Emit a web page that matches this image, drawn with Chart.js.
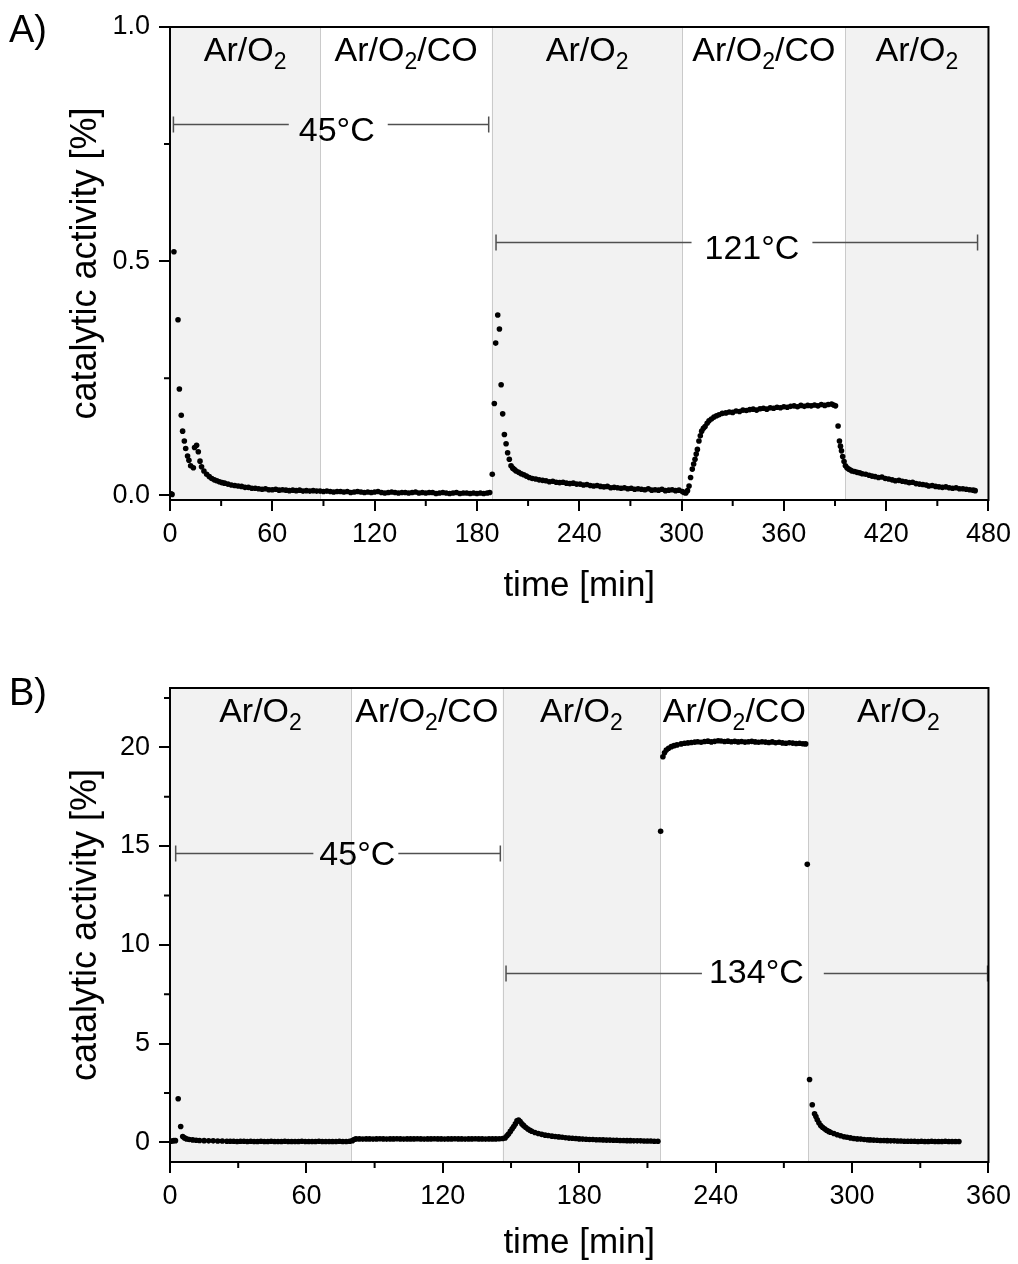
<!DOCTYPE html>
<html><head><meta charset="utf-8">
<script src="https://cdn.jsdelivr.net/npm/chart.js@4.4.0/dist/chart.umd.min.js"></script>
<style>
html,body{margin:0;padding:0;background:#fff;}
#wrap{position:relative;width:1018px;height:1264px;overflow:hidden;font-family:'Liberation Sans',Arial,sans-serif;}
canvas{position:absolute;left:0;}
#cA{top:0;} #cB{top:640px;}
.lbl{position:absolute;left:9px;font-size:38px;color:#000;line-height:1;}
</style></head>
<body><div id="wrap">
<canvas id="cA" width="1018" height="630"></canvas>
<canvas id="cB" width="1018" height="624"></canvas>
<div class="lbl" style="top:10px">A)</div>
<div class="lbl" style="top:673px">B)</div>
</div>
<script>
const FONT = "'Liberation Sans', Arial, sans-serif";

// ---------- Panel A data (time [min], catalytic activity [%]) ----------
const timeA1 = [0.5,1.2,2.3,4.7,5.5,6.6,7.4,8.4,9.2,10.3,11.1,12.1,13.7,14.4,15.6,16.6,17.6,18.5,19.9,21.5,23,24.5,26,27.5,29,30.5,32,34,36,38,40,42,44,46,48,50,52,54,56,58,60,62,64,66,68,70,72,74,76,78,80,82,84,86,88];
const actA1  = [0.003,0.002,0.52,0.375,0.227,0.171,0.137,0.116,0.100,0.084,0.075,0.063,0.059,0.102,0.107,0.093,0.073,0.061,0.052,0.045,0.040,0.036,0.033,0.031,0.029,0.027,0.026,0.024,0.022,0.021,0.020,0.019,0.017,0.017,0.015,0.015,0.014,0.013,0.014,0.012,0.012,0.013,0.011,0.012,0.011,0.010,0.011,0.010,0.011,0.009,0.010,0.009,0.010,0.009,0.009];
const timeA2 = [90,92,94,96,98,100,102,104,106,108,110,112,114,116,118,120,122,124,126,128,130,132,134,136,138,140,142,144,146,148,150,152,154,156,158,160,162,164,166,168,170,172,174,176,178,180,182,184,186,187.5];
const actA2  = [0.008,0.009,0.008,0.007,0.008,0.008,0.007,0.008,0.006,0.007,0.008,0.007,0.006,0.007,0.006,0.007,0.008,0.006,0.005,0.006,0.007,0.006,0.005,0.006,0.006,0.005,0.006,0.007,0.005,0.006,0.005,0.006,0.006,0.004,0.005,0.006,0.005,0.004,0.005,0.006,0.004,0.005,0.005,0.004,0.005,0.004,0.005,0.004,0.005,0.006];
const timeA3 = [189,190.2,191,192.2,193.2,194.2,195.1,196.1,197.1,198,199,200,201,202,203,204.5,206,207.5,209,210.7,212.5,214.5,216.5,218.5,220.5,222.5,224.5,226.5,228.5,230.5,232.5,234.5,236.5,238.5,240.5,242.5,244.5,246.5,248.5,250.5,252.5,254.5,256.5,258.5,260.5,262.5,264.5,266.5,268.5,270.5,272.5,274.5,276.5,278.5,280.5,282.5,284.5,286.5,288.5,290.5,292.5,294.5,296.5,298.5,300.5];
const actA3  = [0.045,0.196,0.325,0.385,0.355,0.236,0.174,0.130,0.110,0.091,0.077,0.063,0.058,0.055,0.052,0.049,0.046,0.044,0.041,0.038,0.036,0.035,0.033,0.032,0.031,0.029,0.030,0.028,0.027,0.028,0.026,0.025,0.026,0.024,0.024,0.022,0.023,0.021,0.020,0.021,0.019,0.018,0.019,0.016,0.017,0.016,0.015,0.016,0.014,0.015,0.013,0.014,0.013,0.012,0.014,0.011,0.012,0.011,0.013,0.010,0.011,0.012,0.010,0.011,0.008];
const timeA4 = [301.5,302.5,303.5,304.4,305.3,306.3,307.1,307.9,308.6,309.3,310.2,311,311.8,312.8,313.8,315,316.1,317.5,319,320.5,322,323.9,326,328,330,332,334,336,338,340,342,344,346,348,350,352,354,356,358,360,362,364,366,368,370,372,374,376,378,380,382,384,386,388,389.2,390.3];
const actA4  = [0.006,0.005,0.010,0.020,0.038,0.056,0.067,0.077,0.088,0.098,0.116,0.127,0.137,0.143,0.147,0.154,0.159,0.163,0.167,0.170,0.172,0.175,0.176,0.178,0.177,0.180,0.179,0.182,0.181,0.183,0.184,0.182,0.185,0.186,0.184,0.187,0.186,0.188,0.187,0.189,0.188,0.190,0.191,0.189,0.192,0.190,0.192,0.191,0.193,0.191,0.194,0.192,0.194,0.195,0.193,0.191];
const timeA5 = [391.8,392.6,393.2,393.8,394.5,395.3,396.1,397,398,399,400,401.5,403,404.5,406,408,410,411.7,413.5,415.5,417.5,419.5,421.5,423.5,425.4,427.5,429.5,431.5,433.5,435.5,437.5,439.5,441.5,443.5,445,447,449,451,453,455,457,459,461,463,465,467,469,471,472.2];
const actA5  = [0.148,0.116,0.105,0.095,0.083,0.072,0.063,0.059,0.056,0.054,0.052,0.051,0.049,0.048,0.046,0.045,0.043,0.041,0.040,0.038,0.039,0.036,0.035,0.033,0.031,0.032,0.030,0.029,0.027,0.028,0.025,0.024,0.023,0.022,0.020,0.021,0.019,0.018,0.017,0.018,0.016,0.015,0.016,0.014,0.014,0.013,0.012,0.011,0.010];

// ---------- Panel B data ----------
const timeB1 = [0.3,1.0,1.7,2.4,3.6,4.7,5.6,6.4,7.3,8.5,10,11.5,13,15,17,19,21,23,25,26.5,28,29.5,31,32.5,34,35.5,37,38.5,40,41.5,43,44.5,46,47.5,49,50.5,52,53.5,55,56.5,58,59.5,61,62.5,64,65.5,67,68.5,70,71.5,73,74.5,76,77.5,79];
const actB1  = [0.05,0.06,0.09,0.08,2.2,0.8,0.29,0.22,0.17,0.14,0.12,0.10,0.09,0.08,0.07,0.07,0.06,0.06,0.05,0.05,0.05,0.04,0.05,0.05,0.04,0.05,0.04,0.04,0.05,0.04,0.04,0.05,0.04,0.04,0.04,0.05,0.04,0.04,0.04,0.04,0.05,0.04,0.04,0.04,0.04,0.05,0.04,0.04,0.04,0.04,0.04,0.05,0.04,0.04,0.05];
const timeB2 = [80.2,81,81.8,83.3,84.8,86.3,87.8,89.3,90.8,92.3,93.8,95.3,96.8,98.3,99.8,101.3,102.8,104.3,105.8,107.3,108.8,110.3,111.8,113.3,114.8,116.3,117.8,119.3,120.8,122.3,123.8,125.3,126.8,128.3,129.8,131.3,132.8,134.3,135.8,137.3,138.8,140.3,141.8,143.3,144.8,146.3];
const actB2  = [0.08,0.14,0.17,0.17,0.16,0.17,0.17,0.16,0.17,0.18,0.17,0.16,0.17,0.17,0.18,0.17,0.16,0.17,0.17,0.17,0.18,0.17,0.16,0.17,0.17,0.18,0.17,0.17,0.16,0.17,0.17,0.18,0.17,0.17,0.16,0.17,0.17,0.18,0.17,0.17,0.16,0.17,0.17,0.17,0.18,0.19];
const timeB3 = [147.4,148.2,148.9,149.7,150.5,151.2,151.9,152.6,153.3,154.0,154.8,155.6,156.5,157.4,158.3,159.1,160.5,162,163.5,165,166.4,168,169.5,171,172.5,174,175.5,177,178.5,180,181.5,183,184.5,186,187.5,189,190.5,192,193.5,195,196.5,198,199.5,201,202.5,204,205.5,207,208.5,210,211.5,213,214.6];
const actB3  = [0.22,0.33,0.42,0.55,0.68,0.80,0.93,1.08,1.13,1.05,0.93,0.84,0.75,0.67,0.61,0.56,0.49,0.44,0.40,0.36,0.34,0.31,0.29,0.27,0.25,0.23,0.21,0.20,0.19,0.17,0.16,0.15,0.14,0.14,0.13,0.13,0.12,0.11,0.11,0.10,0.10,0.09,0.09,0.08,0.08,0.07,0.07,0.07,0.06,0.06,0.06,0.05,0.05];
const timeB4 = [215.8,216.8,217.5,218.3,219.3,220.5,221.7,223,224.8,226.3,227.8,229.3,230.8,232.1,233.6,235.1,236.6,238.1,239.6,241.1,242.4,243.9,245.4,246.9,248.4,249.9,251.4,252.9,254.4,255.9,257.4,258.9,260.4,261.9,263.4,264.9,266.4,267.9,269.4,270.9,272.4,273.9,275.4,276.9,278.4,279.6];
const actB4  = [15.75,19.52,19.72,19.86,19.95,20.03,20.08,20.12,20.17,20.2,20.22,20.24,20.26,20.28,20.25,20.29,20.31,20.27,20.3,20.33,20.32,20.29,20.31,20.28,20.3,20.27,20.29,20.26,20.28,20.3,20.27,20.25,20.28,20.26,20.24,20.27,20.23,20.25,20.22,20.2,20.23,20.21,20.19,20.2,20.18,20.17];
const timeB5 = [280.3,281.3,282.5,283.5,284.1,284.7,285.4,286.2,287,287.9,288.8,289.7,290.5,292,293.5,295,296.5,297.8,299.3,300.8,302.3,303.8,305.3,306.8,308,309.5,311,312.5,314,315.5,317,318.5,320,321.5,323,324.5,326,327.5,329,330.5,332,333.5,335,336.5,338,339.5,341,342.5,344,345.5,347];
const actB5  = [14.07,3.18,1.9,1.44,1.3,1.14,0.99,0.85,0.76,0.68,0.61,0.55,0.51,0.44,0.38,0.33,0.28,0.25,0.22,0.19,0.17,0.16,0.14,0.13,0.12,0.11,0.10,0.09,0.09,0.08,0.07,0.07,0.06,0.06,0.05,0.05,0.05,0.05,0.04,0.05,0.04,0.04,0.05,0.04,0.04,0.04,0.05,0.04,0.04,0.04,0.04];

// ---------- gas phases ----------
const gasBoundsA = [0, 88.2, 188.7, 300.5, 396, 480];
const gasBoundsB = [0, 79.6, 146.3, 215.6, 280.8, 360];
const gasLabels  = ['Ar/O2', 'Ar/O2/CO', 'Ar/O2', 'Ar/O2/CO', 'Ar/O2'];

// ---------- temperature annotations ----------
const tempA = [
  {text:'45°C',  from:2.0,   to:186.9, level:0.793, textAt:97.8,  gapL:10, gapR:13, dy:7},
  {text:'121°C', from:191.2, to:473.6, level:0.541, textAt:341.3, gapL:13, gapR:13, dy:7}
];
const tempB = [
  {text:'45°C',  from:2.5,   to:145.3, level:14.65, textAt:82.4,  gapL:6, gapR:3,  dy:2},
  {text:'134°C', from:147.8, to:359.6, level:8.59,  textAt:257.9, gapL:7, gapR:20, dy:0}
];

// ---------- tick values ----------
const xMajorStep = 60;
const xMinorA = [30,90,150,210,270,330,390,450];
const xMinorB = [30,90,150,210,270,330];
const yMinorA = [0.25,0.75];
const yMinorB = [2.5,7.5,12.5,17.5,22.5];

function drawGas(ctx, label, cx, baseline) {
  const idx = label.indexOf('2');
  const p1 = label.slice(0, idx), p3 = label.slice(idx + 1);
  const big = '34px ' + FONT, small = '23px ' + FONT;
  ctx.font = big;
  const w1 = ctx.measureText(p1).width, w3 = ctx.measureText(p3).width;
  ctx.font = small;
  const w2 = ctx.measureText('2').width;
  const x0 = cx - (w1 + w2 + w3) / 2;
  ctx.textAlign = 'left'; ctx.textBaseline = 'alphabetic'; ctx.fillStyle = '#000';
  ctx.font = big; ctx.fillText(p1, x0, baseline);
  ctx.font = small; ctx.fillText('2', x0 + w1, baseline + 8);
  ctx.font = big; ctx.fillText(p3, x0 + w1 + w2, baseline);
}

function makePanelPlugin(cfg) {
  return {
    id: 'panel',
    beforeDraw(chart) {
      const {ctx, chartArea: ca, scales: {x}} = chart;
      const b = cfg.bounds;
      ctx.save();
      for (let i = 0; i < b.length - 1; i++) {
        if (gasLabels[i] === 'Ar/O2') {
          const x0 = x.getPixelForValue(b[i]), x1 = x.getPixelForValue(b[i + 1]);
          ctx.fillStyle = '#f2f2f2';
          ctx.fillRect(x0, ca.top, x1 - x0, ca.bottom - ca.top);
        }
      }
      ctx.strokeStyle = '#cacaca'; ctx.lineWidth = 1;
      for (let i = 1; i < b.length - 1; i++) {
        const px = Math.round(x.getPixelForValue(b[i])) + 0.5;
        ctx.beginPath(); ctx.moveTo(px, ca.top); ctx.lineTo(px, ca.bottom); ctx.stroke();
      }
      ctx.restore();
    },
    beforeDatasetsDraw(chart) {
      const {ctx, chartArea: ca, scales: {x, y}} = chart;
      const b = cfg.bounds;
      ctx.save();
      for (let i = 0; i < b.length - 1; i++) {
        const cx = (x.getPixelForValue(b[i]) + x.getPixelForValue(b[i + 1])) / 2;
        drawGas(ctx, gasLabels[i], cx, ca.top + 34);
      }
      for (const a of cfg.temps) {
        const x1 = x.getPixelForValue(a.from), x2 = x.getPixelForValue(a.to);
        const yp = Math.round(y.getPixelForValue(a.level)) + 0.5;
        const tx = x.getPixelForValue(a.textAt);
        ctx.font = '34px ' + FONT;
        const w = ctx.measureText(a.text).width;
        const gl = tx - w / 2 - a.gapL, gr = tx + w / 2 + a.gapR;
        ctx.strokeStyle = '#505050'; ctx.lineWidth = 1.5;
        ctx.beginPath();
        ctx.moveTo(x1, yp); ctx.lineTo(gl, yp);
        ctx.moveTo(gr, yp); ctx.lineTo(x2, yp);
        ctx.moveTo(x1, yp - 8); ctx.lineTo(x1, yp + 8);
        ctx.moveTo(x2, yp - 8); ctx.lineTo(x2, yp + 8);
        ctx.stroke();
        ctx.fillStyle = '#000'; ctx.textAlign = 'center'; ctx.textBaseline = 'middle';
        ctx.fillText(a.text, tx, yp + a.dy);
      }
      ctx.restore();
    },
    afterDraw(chart) {
      const {ctx, chartArea: ca, scales: {x, y}} = chart;
      ctx.save();
      ctx.strokeStyle = '#000'; ctx.lineWidth = 2;
      ctx.beginPath();
      ctx.moveTo(ca.left - 1, ca.top); ctx.lineTo(ca.right, ca.top); ctx.lineTo(ca.right, ca.bottom + 1);
      ctx.stroke();
      ctx.beginPath();
      for (const v of cfg.xMinor) {
        const px = x.getPixelForValue(v);
        ctx.moveTo(px, ca.bottom); ctx.lineTo(px, ca.bottom + 6);
      }
      for (const v of cfg.yMinor) {
        const py = y.getPixelForValue(v);
        ctx.moveTo(ca.left, py); ctx.lineTo(ca.left - 6, py);
      }
      ctx.stroke();
      ctx.restore();
    }
  };
}

function makeChart(id, cfg) {
  const pts = cfg.t.map((t, i) => ({x: t, y: cfg.v[i]}));
  return new Chart(document.getElementById(id), {
    type: 'scatter',
    data: {datasets: [{data: pts, pointRadius: 2.8, pointHoverRadius: 2.8, pointBackgroundColor: '#000', pointBorderColor: '#000', pointBorderWidth: 0, showLine: false}]},
    options: {
      responsive: false, animation: false, devicePixelRatio: 1,
      layout: {padding: {left: 0, top: cfg.padTop, right: 28, bottom: 0}},
      plugins: {legend: {display: false}, tooltip: {enabled: false}},
      scales: {
        x: {
          type: 'linear', min: 0, max: cfg.xMax,
          afterFit: s => { s.height = cfg.xAxisH; },
          ticks: {stepSize: xMajorStep, font: {size: 27, family: FONT}, color: '#000', padding: 7, maxRotation: 0, autoSkip: false},
          grid: {drawOnChartArea: false, drawTicks: true, tickLength: 11, color: '#000', lineWidth: 2},
          border: {display: true, color: '#000', width: 2},
          title: {display: true, text: 'time [min]', font: {size: 35, family: FONT}, color: '#000', padding: {top: 0, bottom: cfg.xTitlePad}}
        },
        y: {
          type: 'linear', min: cfg.yMin, max: cfg.yMax,
          afterFit: s => { s.width = 170; },
          ticks: {stepSize: cfg.yStep, includeBounds: false, font: {size: 27, family: FONT}, color: '#000', padding: 9, callback: cfg.yFmt},
          grid: {drawOnChartArea: false, drawTicks: true, tickLength: 11, color: '#000', lineWidth: 2},
          border: {display: true, color: '#000', width: 2},
          title: {display: true, text: 'catalytic activity [%]', font: {size: 36, family: FONT}, color: '#000', padding: {top: 64, bottom: 0}}
        }
      }
    },
    plugins: [makePanelPlugin(cfg)]
  });
}

makeChart('cA', {
  t: [...timeA1, ...timeA2, ...timeA3, ...timeA4, ...timeA5],
  v: [...actA1, ...actA2, ...actA3, ...actA4, ...actA5],
  xMax: 480, yMin: -0.01, yMax: 1.0, yStep: 0.5, yFmt: v => v.toFixed(1),
  padTop: 27, xAxisH: 130, xTitlePad: 23,
  bounds: gasBoundsA, temps: tempA, xMinor: xMinorA, yMinor: yMinorA
});
makeChart('cB', {
  t: [...timeB1, ...timeB2, ...timeB3, ...timeB4, ...timeB5],
  v: [...actB1, ...actB2, ...actB3, ...actB4, ...actB5],
  xMax: 360, yMin: -1, yMax: 23, yStep: 5, yFmt: v => String(v),
  padTop: 48, xAxisH: 102, xTitlePad: 0,
  bounds: gasBoundsB, temps: tempB, xMinor: xMinorB, yMinor: yMinorB
});
</script>
</body></html>
